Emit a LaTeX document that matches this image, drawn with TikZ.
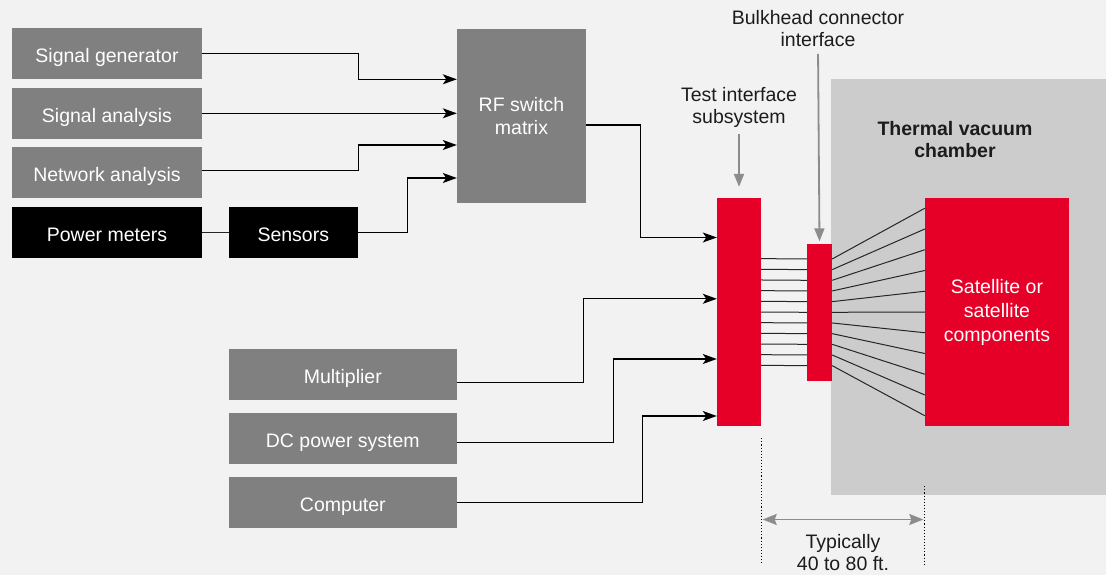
\documentclass[tikz,border=0pt]{standalone}
\usepackage{fontspec}
\setmainfont{Liberation Sans}
\usetikzlibrary{positioning,arrows.meta,calc}
\definecolor{pagegray}{RGB}{242,242,242}
\definecolor{boxgray}{RGB}{128,128,128}
\definecolor{chambergray}{RGB}{204,204,204}
\definecolor{kred}{RGB}{230,0,40}
\definecolor{lbldark}{RGB}{28,28,28}
\definecolor{callgray}{RGB}{140,140,140}
\tikzset{
  boxbase/.style={fill=boxgray, text=white, align=center, inner sep=0pt,
                  font=\fontsize{19.5}{23}\selectfont,
                  minimum width=190pt, minimum height=50.5pt},
  gbox/.style={boxbase, text height=18pt, text depth=0pt},
  kbox/.style={gbox, fill=black},
  redblk/.style={fill=kred, inner sep=0pt, text=white, align=center,
                 font=\fontsize{19.5}{24}\selectfont},
  lbl/.style={text=lbldark, align=center, inner sep=1pt,
              font=\fontsize{19.5}{22}\selectfont},
  feed/.style={-{Stealth[length=14pt,width=10pt,inset=3.5pt]}, draw=black, line width=1.2pt},
  wire/.style={draw=black!85, line width=1pt},
  callout/.style={-{Triangle[length=13pt,width=10pt]}, draw=callgray, line width=1.8pt},
  dimline/.style={{Stealth[length=14pt,width=11pt,inset=2pt]}-{Stealth[length=14pt,width=11pt,inset=2pt]},
                  draw=callgray, line width=1.8pt},
  guide/.style={dotted, draw=black, line width=1.1pt},
}
\newcommand{\ColA}{107}
\newcommand{\ColB}{342.8}
\newcommand{\ColRF}{521.5}
\newcommand{\ColTI}{739}
\newcommand{\ColBH}{819.5}
\newcommand{\ColSat}{997}

\begin{document}
\begin{tikzpicture}[x=1pt,y=-1pt]

  \fill[pagegray] (0,0) rectangle (1106,575);
  \useasboundingbox (0,0) rectangle (1106,575);

  \node[fill=chambergray, inner sep=0pt, minimum width=275pt, minimum height=416pt] (chamber) at (968.5,287) {};
  \node[lbl, font=\bfseries\fontsize{19.5}{22}\selectfont] (chamberlbl) at (955,140) {Thermal vacuum\\chamber};

  \node[gbox] (siggen) at (\ColA,53.3) {Signal generator};
  \node[gbox] (siganal) at (\ColA,113.3) {Signal analysis};
  \node[gbox] (netanal) at (\ColA,172.3) {Network analysis};
  \node[kbox] (powmeter) at (\ColA,232.3) {Power meters};
  \node[kbox, minimum width=128.7pt] (sensors) at (293.3,232.3) {Sensors};
  \node[boxbase, minimum width=129pt, minimum height=174pt] (rfswitch) at (\ColRF,116) {RF switch\\matrix};

  \node[gbox, minimum width=227.7pt] (multiplier) at (\ColB,374.3) {Multiplier};
  \node[gbox, minimum width=227.7pt] (dcpower) at (\ColB,438.3) {DC power system};
  \node[gbox, minimum width=227.7pt] (computer) at (\ColB,502.3) {Computer};

  \node[redblk, minimum width=44pt, minimum height=228pt] (testif) at (\ColTI,312) {};
  \node[redblk, minimum width=25pt, minimum height=137pt] (bulkhead) at (\ColBH,312.3) {};
  \node[redblk, minimum width=144pt, minimum height=228pt] (satellite) at (\ColSat,312) {Satellite or\\satellite\\components};

  \node[lbl] (testiflbl) at (\ColTI,107) {Test interface\\subsystem};
  \node[lbl] (bulkheadlbl) at (818,28.5) {Bulkhead connector\\interface};

  \draw[feed] (siggen.east) -- ++(156,0) |- ([yshift=36.7pt]rfswitch.west);
  \draw[feed] (siganal.east) -- (siganal.east -| rfswitch.west);
  \draw[feed] ([yshift=2pt]netanal.east) -- ++(156,0) |- ([yshift=-29pt]rfswitch.west);
  \draw[wire, line width=1.2pt] (powmeter) -- (sensors);
  \draw[feed] (sensors.east) -- ++(49.3,0) |- ([yshift=-62pt]rfswitch.west);

  \draw[feed] ([yshift=-9pt]rfswitch.east) -- ++(54,0) |- ([yshift=74.5pt]testif.west);
  \draw[feed] ([yshift=-8pt]multiplier.east) -- ++(126.6,0) |- ([yshift=13.2pt]testif.west);
  \draw[feed] ([yshift=-4pt]dcpower.east) -- ++(156.6,0) |- ([yshift=-47pt]testif.west);
  \draw[feed] (computer.east) -- ++(186,0) |- ([yshift=-104pt]testif.west);

  \foreach \k in {0,...,10} {
    \draw[wire] ([yshift={(5-\k)*10.67pt}]testif.east) -- ([yshift={(5-\k)*10.67pt}]bulkhead.west);
    \draw[wire] ([yshift={(5-\k)*10.67pt}]bulkhead.east) -- ([yshift={(5-\k)*20.75pt}]satellite.west);
  }

  \draw[callout, shorten <=6pt] (testiflbl.south) -- ([yshift=11pt]testif.north);
  \draw[callout, shorten <=6pt] (bulkheadlbl.south) -- ([yshift=2.3pt]bulkhead.north);

  \draw[guide] ([yshift=-12pt]testif.south east) -- ++(0,126);
  \draw[guide] ([yshift=-60pt]satellite.south west) -- ++(0,78);
  \path (testif.south east) ++(0,93.3) coordinate (dimL);
  \path (satellite.south west) ++(0,93.3) coordinate (dimR);
  \draw[dimline, shorten <=1.5pt, shorten >=1.5pt] (dimL) -- (dimR);
  \node[lbl] (dimlbl) at (843,553) {Typically\\40 to 80 ft.};

\end{tikzpicture}
\end{document}
